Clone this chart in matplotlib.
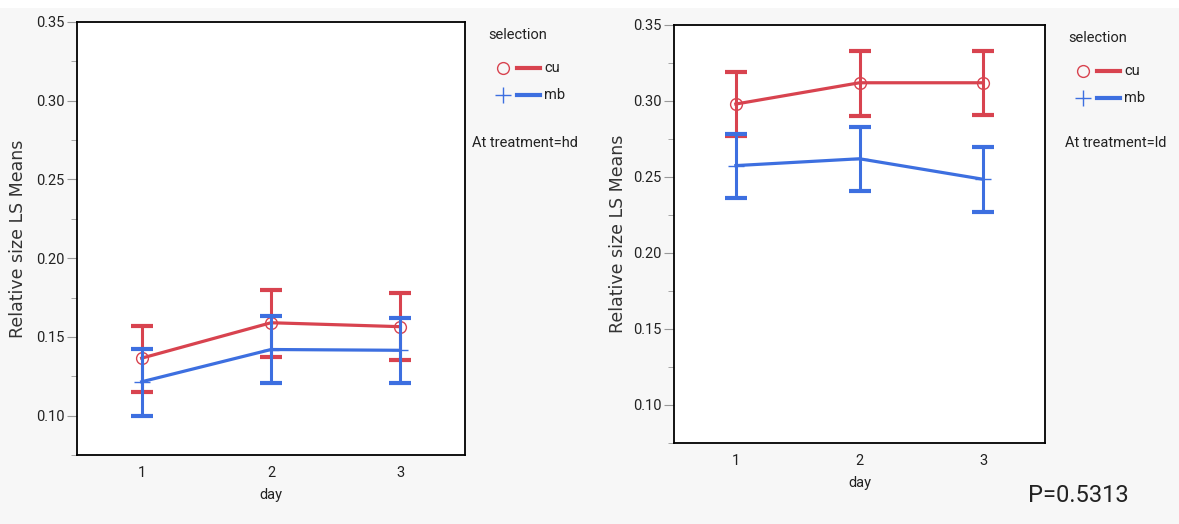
import matplotlib
matplotlib.use("Agg")
import matplotlib.pyplot as plt
from matplotlib.lines import Line2D
from matplotlib.ticker import MultipleLocator

plt.rcParams['font.family'] = ['Roboto', 'DejaVu Sans']

days = [1, 2, 3]
# treatment = hd
hd_cu_mean = [0.1365, 0.159, 0.1565]
hd_cu_lo = [0.1150, 0.1375, 0.1355]
hd_cu_hi = [0.1570, 0.1800, 0.1780]
hd_mb_mean = [0.1215, 0.142, 0.1415]
hd_mb_lo = [0.1000, 0.1205, 0.1205]
hd_mb_hi = [0.1425, 0.1630, 0.1620]
# treatment = ld
ld_cu_mean = [0.298, 0.312, 0.312]
ld_cu_lo = [0.2770, 0.2900, 0.2910]
ld_cu_hi = [0.3190, 0.3330, 0.3330]
ld_mb_mean = [0.2575, 0.2620, 0.2485]
ld_mb_lo = [0.2360, 0.2410, 0.2270]
ld_mb_hi = [0.2785, 0.2830, 0.2695]

groups = ['cu', 'mb']
treatments = ['hd', 'ld']
p_text = 'P=0.5313'

RED = '#d8434f'
BLUE = '#3d6fe0'
BG = '#f7f7f7'

W, H = 1179, 524
fig = plt.figure(figsize=(W / 100, H / 100), dpi=100, facecolor=BG)
fig.patches.append(plt.Rectangle((0, 1 - 8 / H), 1, 8 / H, transform=fig.transFigure,
                                 facecolor='white', edgecolor='none', zorder=0))

def fx(px):
    return px / W

def fy(py):
    return 1 - py / H

axes_px = [(77, 22, 465, 455), (674, 25, 1045, 443)]
ylabel_x = [18, 618]
legend_pos = [(488, 472), (1068, 1065)]
legend_top = [35, 38]

data = [
    (hd_cu_mean, hd_cu_lo, hd_cu_hi, hd_mb_mean, hd_mb_lo, hd_mb_hi),
    (ld_cu_mean, ld_cu_lo, ld_cu_hi, ld_mb_mean, ld_mb_lo, ld_mb_hi),
]

for i, (l, t, r, b) in enumerate(axes_px):
    ax = fig.add_axes([fx(l), fy(b), fx(r - l), (b - t) / H])
    ax.set_facecolor('white')
    cm, clo, chi, mm, mlo, mhi = data[i]
    for mean, lo, hi, col, mk, z in [(cm, clo, chi, RED, 'o', 3), (mm, mlo, mhi, BLUE, '+', 5)]:
        yerr = [[m - a for m, a in zip(mean, lo)], [b_ - m for m, b_ in zip(mean, hi)]]
        ax.errorbar(days, mean, yerr=yerr, fmt='none', ecolor=col, elinewidth=2.2,
                    capsize=8, capthick=3.0, zorder=z)
        ax.plot(days, mean, color=col, lw=2.3, marker=mk,
                markersize=8.5 if mk == 'o' else 12,
                mfc='none', mec=col, mew=1.0, zorder=z + 0.5)
    ax.set_xlim(0.5, 3.5)
    ax.set_ylim(0.075, 0.35)
    ax.set_xticks(days)
    ax.set_xticklabels([str(d) for d in days])
    ax.yaxis.set_major_locator(MultipleLocator(0.05))
    ax.yaxis.set_minor_locator(MultipleLocator(0.025))
    ax.set_yticklabels([f'{v:.2f}' for v in ax.get_yticks()])
    ax.set_ylim(0.075, 0.35)
    ax.tick_params(axis='y', which='major', length=7, color='#999999', labelsize=10.5,
                   pad=2, labelcolor='#222222')
    ax.tick_params(axis='y', which='minor', length=4, color='#999999')
    ax.tick_params(axis='x', length=0, labelsize=10.5, pad=8, labelcolor='#222222')
    for s in ax.spines.values():
        s.set_linewidth(1.3)
        s.set_color('black')
    ax.set_xlabel('day', fontsize=10.5, labelpad=6, color='#222222')
    fig.text(fx(ylabel_x[i]), fy((t + b) / 2), 'Relative size LS Means', rotation=90,
             ha='center', va='center', fontsize=12.5, family='DejaVu Sans', color='#333333')

    # legend
    lx, ax_txt = legend_pos[i]
    ty = legend_top[i]
    fig.text(fx(lx), fy(ty), 'selection', fontsize=10.5, va='center', ha='left',
             color='#222222')
    for j, (g, col, mk) in enumerate(zip(groups, [RED, BLUE], ['o', '+'])):
        yy = fy(ty + 33 + 27 * j)
        fig.add_artist(Line2D([fx(lx + 15)], [yy], marker=mk, mfc='none', mec=col,
                              markersize=8.5 if mk == 'o' else 12, mew=1.0,
                              transform=fig.transFigure, linestyle='none'))
        fig.add_artist(Line2D([fx(lx + 29), fx(lx + 52)], [yy, yy], color=col, lw=3,
                              transform=fig.transFigure))
        fig.text(fx(lx + 56), yy, g, fontsize=10.5, va='center', ha='left', color='#222222')
    fig.text(fx(ax_txt), fy(143), f'At treatment={treatments[i]}', fontsize=10.5,
             va='center', ha='left', color='#222222')

fig.text(fx(1028), fy(495), p_text, fontsize=17, va='center', ha='left', color='#222222')

fig.savefig('out.png', dpi=100, facecolor=BG)
